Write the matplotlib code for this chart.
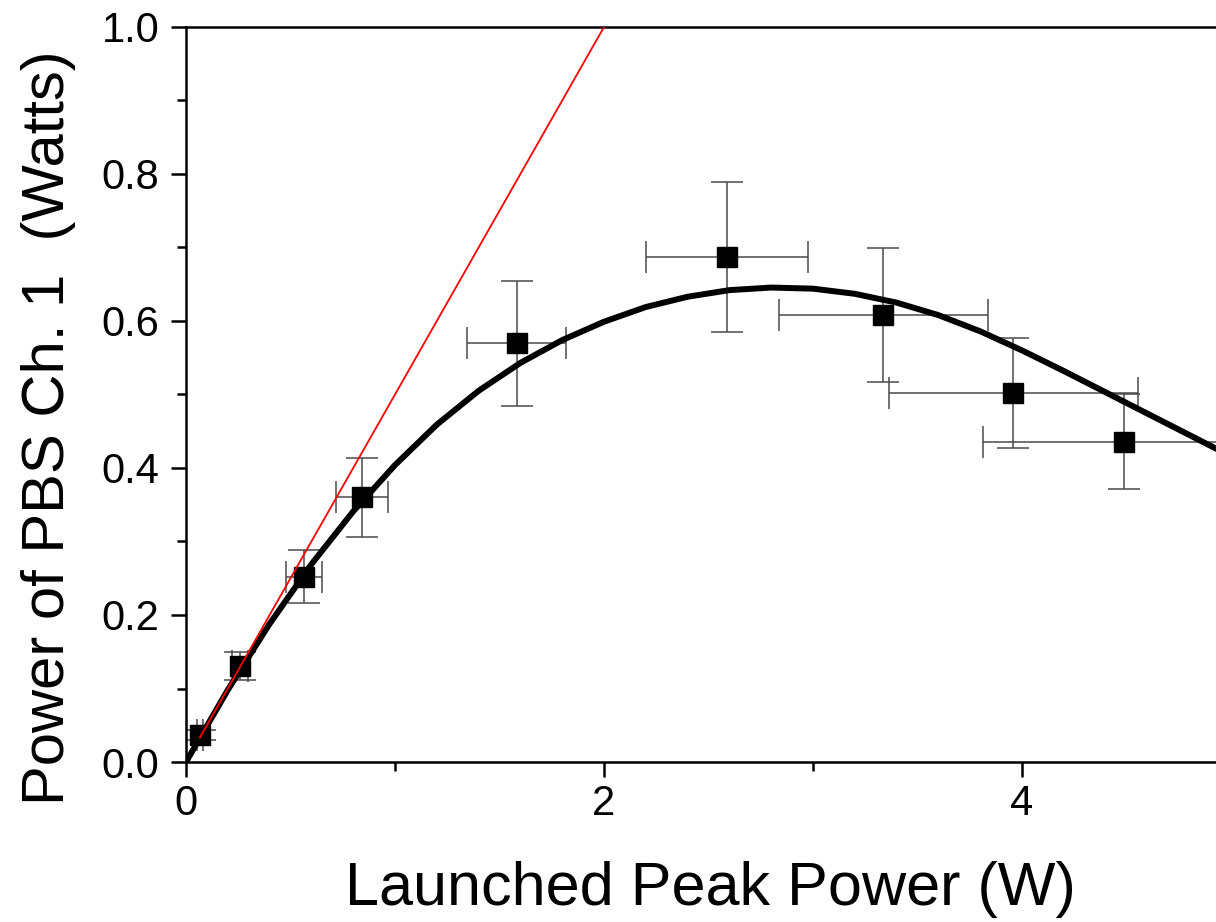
import numpy as np
import matplotlib
matplotlib.use("Agg")
import matplotlib.pyplot as plt
from matplotlib.ticker import MultipleLocator, FormatStrFormatter

plt.rcParams['font.family'] = ['Liberation Sans', 'DejaVu Sans']

launched_power = [0.067, 0.258, 0.564, 0.841, 1.582, 2.587, 3.337, 3.959, 4.488]
pbs_power      = [0.037, 0.130, 0.252, 0.360, 0.570, 0.687, 0.608, 0.502, 0.436]
x_err          = [0.012, 0.040, 0.085, 0.125, 0.236, 0.388, 0.499, 0.594, 0.673]
y_err          = [0.007, 0.019, 0.036, 0.054, 0.085, 0.102, 0.091, 0.075, 0.065]

# --- fitted curve (black) ---
fit_x = [0.0, 0.2, 0.4, 0.6, 0.8, 1.0, 1.2, 1.4, 1.6, 1.8, 2.0, 2.2, 2.4,
         2.6, 2.8, 3.0, 3.2, 3.4, 3.6, 3.8, 4.0, 4.2, 4.4, 4.6, 4.8, 5.0]
fit_y = [0.0, 0.098, 0.188, 0.269, 0.341, 0.404, 0.459, 0.505, 0.543, 0.574,
         0.599, 0.619, 0.633, 0.642, 0.6455, 0.644, 0.637, 0.625, 0.608, 0.586,
         0.560, 0.532, 0.503, 0.474, 0.445, 0.416]

# --- linear (low power) guide line (red) ---
lin_x = [0.067, 2.0]
lin_y = [0.0335, 1.0]

fig = plt.figure(figsize=(12.16, 9.22), dpi=100)
ax = fig.add_axes([186 / 1216, 160 / 922, 1045 / 1216, 735 / 922])

ax.errorbar(launched_power, pbs_power, xerr=x_err, yerr=y_err, fmt='none',
            ecolor='#4a4a4a', elinewidth=1.1, capsize=11.4, capthick=1.1, zorder=2)
ax.plot(fit_x, fit_y, color='black', linewidth=4.3, solid_capstyle='round',
        solid_joinstyle='round', zorder=3)
ax.plot(launched_power, pbs_power, 's', color='black', markersize=14, zorder=4)
ax.plot(lin_x, lin_y, color='red', linewidth=1.3, zorder=5)

ax.set_xlim(0, 5)
ax.set_ylim(0, 1.0)
ax.xaxis.set_major_locator(MultipleLocator(2))
ax.xaxis.set_minor_locator(MultipleLocator(1))
ax.yaxis.set_major_locator(MultipleLocator(0.2))
ax.yaxis.set_minor_locator(MultipleLocator(0.1))
ax.yaxis.set_major_formatter(FormatStrFormatter('%.1f'))

for s in ax.spines.values():
    s.set_linewidth(1.8)
ax.tick_params(which='major', direction='out', length=11, width=1.8, labelsize=30)
ax.tick_params(which='minor', direction='out', length=6.5, width=1.8)
ax.tick_params(axis='y', which='major', pad=8)
ax.tick_params(axis='x', which='major', pad=5)
ax.tick_params(top=False, right=False, which='both')

fig.text(0.584, 0.0184, 'Launched Peak Power (W)', fontsize=44,
         ha='center', va='baseline')
fig.text(0.040, 0.536, 'Power of PBS Ch. 1  (Watts)', fontsize=43,
         rotation=90, ha='center', va='center')

fig.savefig('out.png', dpi=100)
